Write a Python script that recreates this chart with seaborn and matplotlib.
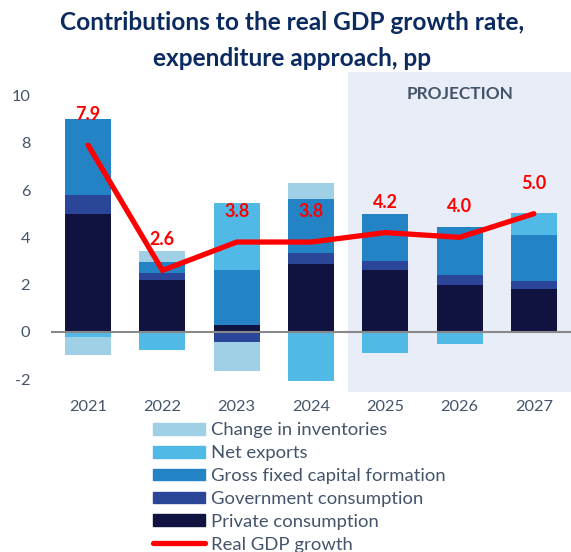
import numpy as np
import pandas as pd
import matplotlib
matplotlib.use("Agg")
import matplotlib.pyplot as plt
from matplotlib.patches import Patch
from matplotlib.lines import Line2D
import seaborn as sns

# Contributions to real GDP growth, percentage points
years = ["2021", "2022", "2023", "2024", "2025", "2026", "2027"]
private_consumption = [5.0, 2.2, 0.3, 2.85, 2.6, 2.0, 1.8]
government_consumption = [0.8, 0.27, -0.44, 0.5, 0.38, 0.4, 0.35]
gross_fixed_capital = [3.2, 0.5, 2.3, 2.27, 2.0, 2.05, 1.93]
net_exports = [-0.2, -0.78, 2.85, -2.1, -0.88, -0.5, 0.97]
inventories = [-0.8, 0.45, -1.2, 0.67, 0.0, 0.0, 0.0]
gdp_growth = [7.9, 2.6, 3.8, 3.8, 4.2, 4.0, 5.0]

series_names = ["Private consumption", "Government consumption",
                "Gross fixed capital formation", "Net exports",
                "Change in inventories"]
series_values = [private_consumption, government_consumption,
                 gross_fixed_capital, net_exports, inventories]
series_colors = ["#10123f", "#2b4699", "#2483c5", "#50b9e6", "#9fd0e5"]

sns.set_theme(style="white")
plt.rcParams["font.family"] = ["Lato", "DejaVu Sans"]
plt.rcParams["axes.unicode_minus"] = False
text_color = "#44546a"

fig = plt.figure(figsize=(5.71, 5.52), dpi=100)
ax = fig.add_axes([51 / 571, 1 - 392 / 552, 1 - 51 / 571, 320 / 552])

# Projection period shading
ax.axvspan(3.5, 6.5, color="#e9edf7", zorder=0, lw=0)
ax.text(5.0, 10.05, "PROJECTION", ha="center", va="center",
        fontsize=12.4, fontweight="bold", color=text_color)

# Stacked bars: positives stack upward, negatives stack downward
pos_base = np.zeros(len(years))
neg_base = np.zeros(len(years))
for name, vals, col in zip(series_names, series_values, series_colors):
    vals = np.asarray(vals, dtype=float)
    bottoms = np.where(vals >= 0, pos_base, neg_base)
    df = pd.DataFrame({"year": years, "value": vals})
    sns.barplot(data=df, x="year", y="value", order=years, bottom=bottoms,
                color=col, saturation=1, width=0.62, errorbar=None,
                linewidth=0, ax=ax, zorder=2)
    pos_base = pos_base + np.where(vals >= 0, vals, 0)
    neg_base = neg_base + np.where(vals < 0, vals, 0)

ax.axhline(0, color="#888888", lw=1.5, zorder=3)

# Real GDP growth line with value labels
gdf = pd.DataFrame({"x": np.arange(len(years)), "gdp": gdp_growth})
sns.lineplot(data=gdf, x="x", y="gdp", color="#ff0000", lw=3.8,
             ax=ax, zorder=4, solid_joinstyle="miter")
for i, v in enumerate(gdp_growth):
    ax.annotate(f"{v:.1f}", (i, v), xytext=(0, 22), textcoords="offset points",
                ha="center", va="center", fontsize=13, fontweight="bold",
                color="#ff0000", zorder=5)

ax.set_xlim(-0.5, 6.5)
ax.set_ylim(-2.55, 11.0)
ax.set_yticks([-2, 0, 2, 4, 6, 8, 10])
ax.set_xticks(range(len(years)))
ax.set_xticklabels(years)
ax.set_xlabel("")
ax.set_ylabel("")
ax.tick_params(axis="both", colors=text_color, labelsize=11.8, length=0)
ax.tick_params(axis="y", pad=15)
ax.tick_params(axis="x", pad=6)
for s in ax.spines.values():
    s.set_visible(False)

title_color = "#0b2a60"
fig.text(0.512, 1 - 23 / 552, "Contributions to the real GDP growth rate,",
         ha="center", va="center", fontsize=17.6, fontweight="bold", color=title_color)
fig.text(0.512, 1 - 58 / 552, "expenditure approach, pp",
         ha="center", va="center", fontsize=17.6, fontweight="bold", color=title_color)

handles = [Patch(color=c) for c in series_colors[::-1]]
handles.append(Line2D([0], [0], color="#ff0000", lw=3.8))
labels = series_names[::-1] + ["Real GDP growth"]
fig.legend(handles, labels, loc="upper left", bbox_to_anchor=(146 / 571, 1 - 415 / 552),
           frameon=False, fontsize=13.3, handlelength=2.8, handleheight=0.6,
           labelspacing=0.37, handletextpad=0.3, borderaxespad=0,
           labelcolor=text_color)

fig.savefig("out.png", dpi=100)
